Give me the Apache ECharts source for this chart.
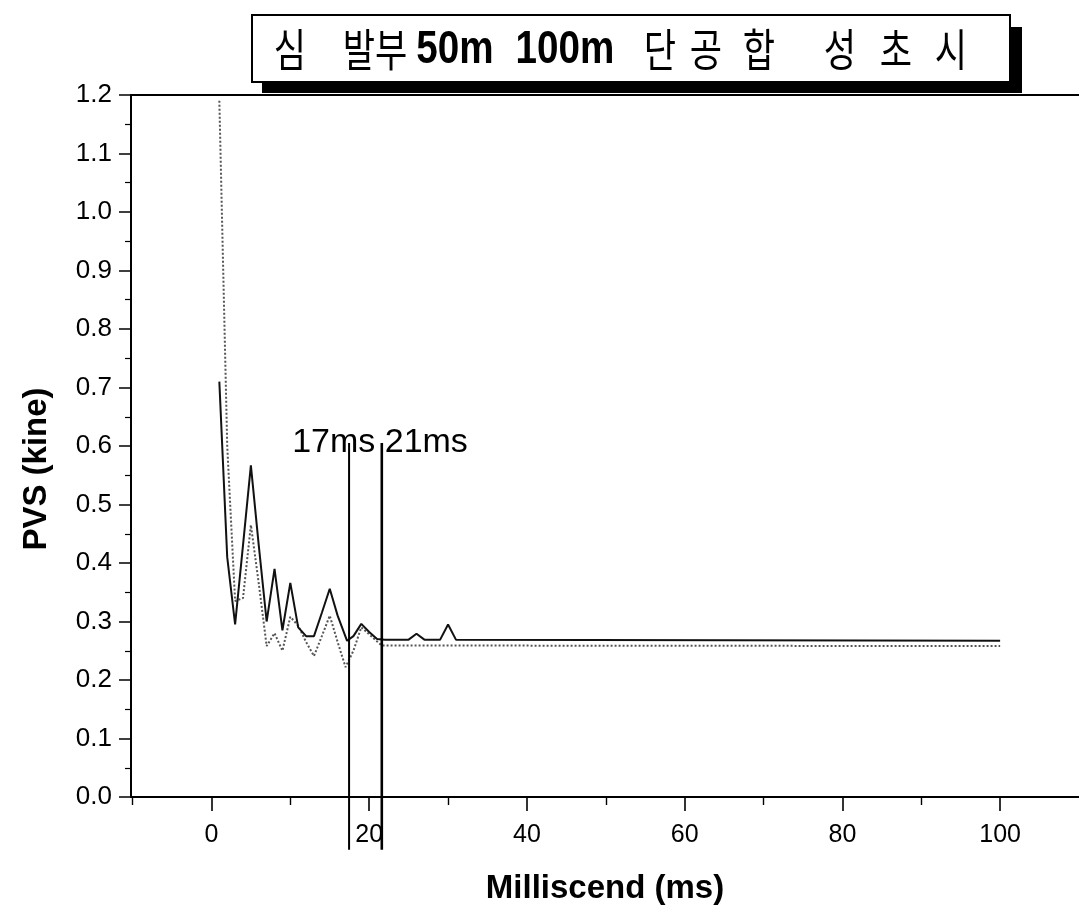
<!DOCTYPE html>
<html>
<head>
<meta charset="utf-8">
<script src="https://cdn.jsdelivr.net/npm/echarts@6/dist/echarts.min.js"></script>
<style>html,body{margin:0;padding:0;background:#fff;}#c{width:1079px;height:911px;}</style>
</head>
<body>
<div id="c"></div>
<script>
// ---- data ----
const solidX = [1, 2, 3, 4, 5, 6, 7, 8, 9, 10, 11, 12, 13, 14, 15, 16, 17.2, 18, 19, 20, 21, 22, 25, 26, 27, 29, 30, 31, 100];
const solidY = [0.71, 0.41, 0.295, 0.43, 0.567, 0.43, 0.30, 0.39, 0.285, 0.366, 0.29, 0.275, 0.275, 0.315, 0.356, 0.31, 0.267, 0.275, 0.296, 0.282, 0.27, 0.269, 0.269, 0.279, 0.269, 0.269, 0.295, 0.269, 0.267];
const dotX = [1, 2, 3, 4, 5, 6, 7, 8, 9, 10, 11, 12, 13, 14, 15, 16, 17, 18, 19, 20, 21, 21.6, 100];
const dotY = [1.19, 0.60, 0.335, 0.34, 0.465, 0.365, 0.258, 0.28, 0.25, 0.308, 0.293, 0.265, 0.241, 0.275, 0.31, 0.265, 0.222, 0.25, 0.29, 0.278, 0.266, 0.259, 0.258];
const markerX = [17.45, 21.6];
const markerRange = [0.605, -0.09];
const markerLabel = '17ms 21ms';
const xMajorTicks = [0, 20, 40, 60, 80, 100];
const xMinorTicks = [-10, 10, 30, 50, 70, 90];
const titleWords = [
  {t: '심', c: 290, bold: false},
  {t: '발부', c: 375, bold: false},
  {t: '50m', c: 455, bold: true},
  {t: '100m', c: 565, bold: true},
  {t: '단', c: 660, bold: false},
  {t: '공', c: 706, bold: false},
  {t: '합', c: 759, bold: false},
  {t: '성', c: 840, bold: false},
  {t: '초', c: 896, bold: false},
  {t: '시', c: 951, bold: false}
];
const xName = 'Milliscend (ms)';
const yName = 'PVS (kine)';

const zip = (xs, ys) => xs.map((x, i) => [x, ys[i]]);
const chart = echarts.init(document.getElementById('c'), null, {renderer: 'canvas'});
const latin = '"Liberation Sans", Arial, sans-serif';

const markerSeries = markerX.map((mx, i) => ({
  type: 'line', data: markerRange.map(v => [mx, v]), symbol: 'none', clip: false,
  lineStyle: {color: '#000', width: i === 0 ? 2 : 2.6}, silent: true, z: 5
}));

const titleGraphics = titleWords.map(w => ({
  type: 'text', x: w.c, y: 50, scaleX: w.bold ? 0.84 : 0.78, z: 110,
  style: {
    text: w.t,
    font: w.bold ? ('bold 46px ' + latin) : '45px "Noto Sans CJK KR", sans-serif',
    textAlign: 'center', textVerticalAlign: 'middle', fill: '#000'
  }
}));

chart.setOption({
  animation: false,
  backgroundColor: '#fff',
  grid: {left: 131, top: 95, width: 951, bottom: 114, containLabel: false},
  xAxis: [
    {
      type: 'value', min: -10.2, max: 110, position: 'bottom',
      name: xName, nameLocation: 'middle', nameGap: 75,
      nameTextStyle: {fontSize: 33, fontWeight: 'bold', color: '#000', fontFamily: latin},
      axisLine: {show: true, onZero: false, lineStyle: {color: '#000', width: 2}},
      axisTick: {show: true, customValues: xMajorTicks, length: 14, lineStyle: {color: '#000', width: 1.6}},
      axisLabel: {show: true, customValues: xMajorTicks, fontSize: 25, color: '#000', fontFamily: latin, margin: 26},
      splitLine: {show: false}
    },
    {
      type: 'value', min: -10.2, max: 110, position: 'bottom',
      axisLine: {show: false, onZero: false},
      axisTick: {show: true, customValues: xMinorTicks, length: 8, lineStyle: {color: '#000', width: 1.4}},
      axisLabel: {show: false},
      splitLine: {show: false}
    },
    {
      type: 'value', min: -10.2, max: 110, position: 'top',
      axisLine: {show: true, onZero: false, lineStyle: {color: '#000', width: 2}},
      axisTick: {show: false}, axisLabel: {show: false}, splitLine: {show: false}
    }
  ],
  yAxis: {
    type: 'value', min: 0, max: 1.2, interval: 0.1, position: 'left',
    name: yName, nameLocation: 'middle', nameGap: 78,
    nameTextStyle: {fontSize: 33, fontWeight: 'bold', color: '#000', fontFamily: latin, padding: [0, 46, 0, 0]},
    axisLine: {show: true, onZero: false, lineStyle: {color: '#000', width: 2}},
    axisTick: {show: true, length: 12, lineStyle: {color: '#000', width: 1.5}},
    minorTick: {show: true, splitNumber: 2, length: 6, lineStyle: {color: '#000', width: 1.2}},
    axisLabel: {fontSize: 26, color: '#000', fontFamily: latin, margin: 19, formatter: v => v.toFixed(1)},
    splitLine: {show: false}
  },
  series: [
    {type: 'line', data: zip(dotX, dotY), symbol: 'none', lineStyle: {color: '#555', width: 2, type: 'dotted'}, z: 3},
    {type: 'line', data: zip(solidX, solidY), symbol: 'none', lineStyle: {color: '#111', width: 2}, z: 4}
  ].concat(markerSeries),
  graphic: [
    {type: 'rect', z: 100, shape: {x: 262, y: 27, width: 760, height: 66}, style: {fill: '#000'}},
    {type: 'rect', z: 101, shape: {x: 252, y: 15, width: 758, height: 67}, style: {fill: '#fff', stroke: '#000', lineWidth: 2}},
    {type: 'text', x: 380, y: 443, z: 110, style: {text: markerLabel, font: '34px ' + latin, textAlign: 'center', textVerticalAlign: 'middle', fill: '#000'}}
  ].concat(titleGraphics)
});
</script>
</body>
</html>
